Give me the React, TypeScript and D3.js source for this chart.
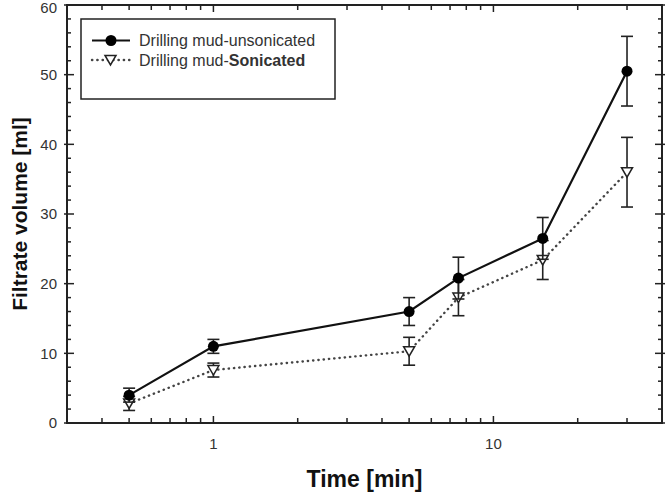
import React from "react";
import * as d3 from "d3";

const times = [0.5, 1, 5, 7.5, 15, 30];
const unsonicated = [4, 11, 16, 20.8, 26.5, 50.5];
const unsonicatedErr = [1, 1, 2, 3, 3, 5];
const sonicated = [2.8, 7.6, 10.3, 18, 23.4, 36];
const sonicatedErr = [1, 1, 2, 2.6, 2.8, 5];
const xTickLabels = [1, 10];
const yTickLabels = [0, 10, 20, 30, 40, 50, 60];

const W = 666;
const H = 494;
const left = 67;
const right = 662;
const top = 5;
const bottom = 423;

const FONT = "'Liberation Sans', Arial, sans-serif";
const DOTS = "0.3,5";

export default function App() {
  const x = d3.scaleLog().domain([0.3, 40]).range([left, right]);
  const y = d3.scaleLinear().domain([0, 60]).range([bottom, top]);

  const xMinor: number[] = [];
  for (const dec of [0.1, 1, 10]) {
    for (let k = 1; k <= 9; k++) {
      const v = +(k * dec).toFixed(3);
      if (v >= 0.3 && v <= 40) xMinor.push(v);
    }
  }
  const yMinor = d3.range(0, 61, 2);

  const line = d3
    .line<number>()
    .x((_, i) => x(times[i]))
    .y((d) => y(d));

  const errBars = (vals: number[], errs: number[], key: string) =>
    vals.map((v, i) => {
      const cx = x(times[i]);
      const y1 = y(v + errs[i]);
      const y2 = y(v - errs[i]);
      return (
        <g key={key + i} stroke="#222" strokeWidth={1.6}>
          <line x1={cx} x2={cx} y1={y1} y2={y2} />
          <line x1={cx - 6} x2={cx + 6} y1={y1} y2={y1} />
          <line x1={cx - 6} x2={cx + 6} y1={y2} y2={y2} />
        </g>
      );
    });

  const tri = (cx: number, cy: number) =>
    `M${cx - 5.5},${cy - 4.5}L${cx + 5.5},${cy - 4.5}L${cx},${cy + 5}Z`;

  return (
    <svg
      width={W}
      height={H}
      style={{ position: "absolute", left: 0, top: 0, background: "#fff" }}
      fontFamily={FONT}
    >
      {/* x ticks (top and bottom, pointing inward) */}
      {xMinor.map((v) => {
        const major = v === 1 || v === 10;
        const len = major ? 7 : 5;
        return (
          <g key={"xt" + v} stroke="#222" strokeWidth={1.5}>
            <line x1={x(v)} x2={x(v)} y1={bottom} y2={bottom - len} />
            <line x1={x(v)} x2={x(v)} y1={top} y2={top + len} />
          </g>
        );
      })}
      {/* y ticks (left and right, pointing inward) */}
      {yMinor.map((v) => {
        const major = v % 10 === 0;
        const len = major ? 7 : 4;
        return (
          <g key={"yt" + v} stroke="#222" strokeWidth={1.5}>
            <line x1={left - (major ? 3 : 0)} x2={left + len} y1={y(v)} y2={y(v)} />
            <line x1={right + (major ? 3 : 0)} x2={right - len} y1={y(v)} y2={y(v)} />
          </g>
        );
      })}
      <rect
        x={left}
        y={top}
        width={right - left}
        height={bottom - top}
        fill="none"
        stroke="#222"
        strokeWidth={2}
      />

      {yTickLabels.map((v) => (
        <text
          key={"yl" + v}
          x={57}
          y={Math.max(y(v), 8)}
          dy="0.35em"
          textAnchor="end"
          fontSize={15}
          fill="#333"
        >
          {v}
        </text>
      ))}
      {xTickLabels.map((v) => (
        <text
          key={"xl" + v}
          x={x(v)}
          y={449}
          textAnchor="middle"
          fontSize={15}
          fill="#333"
        >
          {v}
        </text>
      ))}

      <text
        x={(left + right) / 2}
        y={487}
        textAnchor="middle"
        fontSize={23}
        fontWeight="bold"
        fill="#111"
      >
        Time [min]
      </text>
      <text
        transform={`translate(27,${(top + bottom) / 2}) rotate(-90)`}
        textAnchor="middle"
        fontSize={21}
        fontWeight="bold"
        fill="#111"
      >
        Filtrate volume [ml]
      </text>

      {/* sonicated series */}
      <path
        d={line(sonicated) ?? ""}
        fill="none"
        stroke="#444"
        strokeWidth={2.4}
        strokeDasharray={DOTS}
        strokeLinecap="round"
      />
      {errBars(sonicated, sonicatedErr, "se")}
      {sonicated.map((v, i) => (
        <path key={"sm" + i} d={tri(x(times[i]), y(v))} fill="#fff" stroke="#222" strokeWidth={1.5} />
      ))}

      {/* unsonicated series */}
      <path d={line(unsonicated) ?? ""} fill="none" stroke="#111" strokeWidth={2.2} />
      {errBars(unsonicated, unsonicatedErr, "ue")}
      {unsonicated.map((v, i) => (
        <circle key={"um" + i} cx={x(times[i])} cy={y(v)} r={5.5} fill="#000" />
      ))}

      {/* legend */}
      <rect x={81} y={19} width={254} height={80} fill="#fff" stroke="#222" strokeWidth={1.5} />
      <line x1={92} x2={130} y1={40.5} y2={40.5} stroke="#111" strokeWidth={2.2} />
      <circle cx={111} cy={40.5} r={5.5} fill="#000" />
      <text x={139} y={40.5} dy="0.35em" fontSize={16} fill="#333">
        Drilling mud-unsonicated
      </text>
      <line
        x1={92}
        x2={130}
        y1={60}
        y2={60}
        stroke="#444"
        strokeWidth={2.4}
        strokeDasharray={DOTS}
        strokeLinecap="round"
      />
      <path d={tri(110.5, 60)} fill="#fff" stroke="#222" strokeWidth={1.5} />
      <text x={139} y={60} dy="0.35em" fontSize={16} fill="#333">
        Drilling mud-<tspan fontWeight="bold">Sonicated</tspan>
      </text>
    </svg>
  );
}
